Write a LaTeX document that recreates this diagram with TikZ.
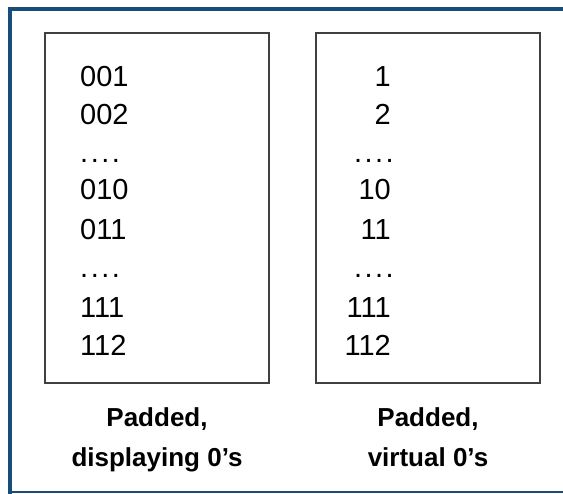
\documentclass[tikz,border=0pt]{standalone}
\usepackage{fontspec}
\setmainfont{Liberation Sans}
\definecolor{framecol}{RGB}{24,76,122}
\definecolor{boxcol}{RGB}{64,64,64}
\newcommand{\fourdots}{.\hspace{2.5pt}.\hspace{2.5pt}.\hspace{2.5pt}.}
\begin{document}
\begin{tikzpicture}[x=1pt,y=-1pt,
  box/.style={draw=boxcol,line width=2pt,inner sep=0pt,minimum width=224pt,minimum height=350pt},
  numl/.style={anchor=base west,inner sep=0pt,font=\fontsize{29}{29}\selectfont},
  numr/.style={anchor=base east,inner sep=0pt,font=\fontsize{29}{29}\selectfont},
  lbl/.style={anchor=base,inner sep=0pt,font=\fontsize{26}{26}\selectfont\bfseries}]
\useasboundingbox (0,0) rectangle (563,494);
% outer frame
\draw[framecol,line width=4pt] (563,9) -- (10,9) -- (10,494);
\draw[framecol,line width=2pt] (10,492.5) -- (563,492.5);
% boxes
\node[box] (L) at (157,208) {};
\node[box] (R) at (428,208) {};
% left column
\node[numl] (l1) at (80,87) {001};
\node[numl] (l2) at (80,125) {002};
\node[numl] (l3) at (80,163) {\fourdots};
\node[numl] (l4) at (80,200) {010};
\node[numl] (l5) at (80,240) {011};
\node[numl] (l6) at (80,278) {\fourdots};
\node[numl] (l7) at (80,318) {111};
\node[numl] (l8) at (80,356) {112};
% right column
\node[numr] (r1) at (391,87) {1};
\node[numr] (r2) at (391,125) {2};
\node[numr] (r3) at (394,163) {\fourdots};
\node[numr] (r4) at (391,200) {10};
\node[numr] (r5) at (391,240) {11};
\node[numr] (r6) at (394,278) {\fourdots};
\node[numr] (r7) at (391,318) {111};
\node[numr] (r8) at (391,356) {112};
% labels
\node[lbl] (la1) at (157,427) {Padded,};
\node[lbl] (la2) at (157,467) {displaying 0’s};
\node[lbl] (lb1) at (428,427) {Padded,};
\node[lbl] (lb2) at (428,467) {virtual 0’s};
\end{tikzpicture}
\end{document}
